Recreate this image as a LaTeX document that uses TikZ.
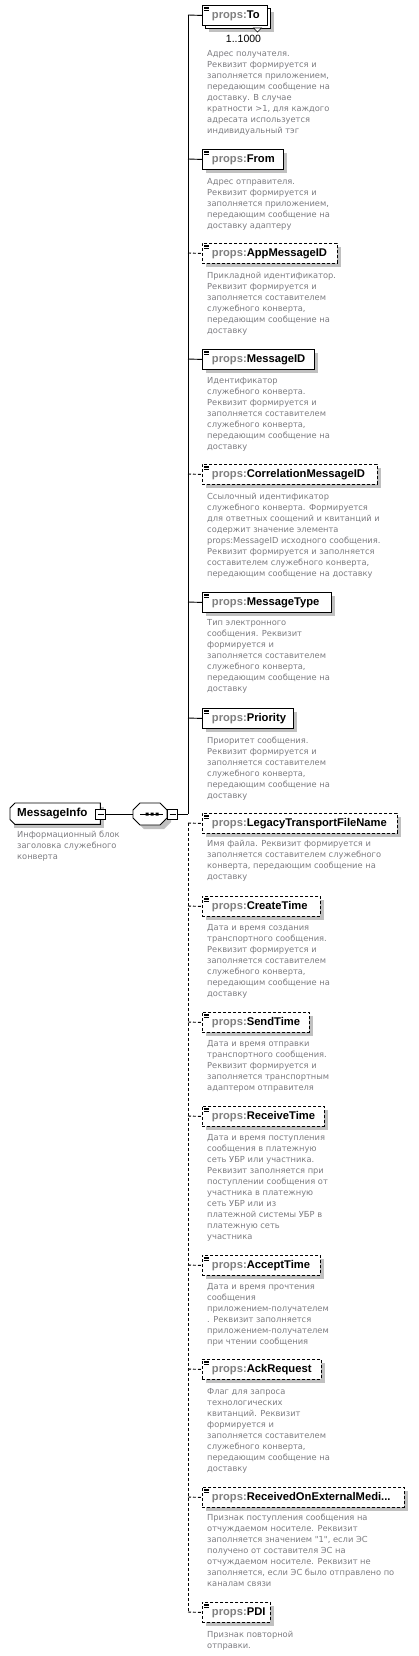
\documentclass[tikz,border=0pt]{standalone}
\usepackage{fontspec}
\setmainfont{Liberation Sans}
\newfontfamily\descfont{DejaVu Sans}
\definecolor{desccol}{RGB}{125,125,130}
\definecolor{shadowcol}{RGB}{192,192,192}
\definecolor{prefixcol}{RGB}{128,128,128}
\tikzset{
  boxline/.style={draw=black, line width=0.9pt},
  conn/.style={draw=black, line width=0.9pt},
  optline/.style={conn, dash pattern=on 3pt off 2pt},
  reqbox/.style={boxline, fill=white, minimum height=20pt, inner sep=0pt, anchor=north west,
    text=black, font=\fontsize{11.2}{13}\selectfont\bfseries},
  optbox/.style={reqbox, dash pattern=on 3pt off 2pt},
  desc/.style={anchor=north west, inner sep=0pt, align=left, text=desccol,
    font=\descfont\fontsize{8.3}{11}\selectfont},
  expbox/.style={draw=black, line width=0.7pt, fill=white, minimum size=10pt, inner sep=0pt},
  docicon/.style={draw=black, line width=0.6pt},
}
\newcommand\mkelem[5]{%
  \fill[shadowcol] (206,#2+4) rectangle ++(#3,20);
  \node[#5, minimum width=#3pt] (#1) at (202,#2) {\makebox[#3pt][l]{\hspace{9.5pt}\textcolor{prefixcol}{props:}#4}};
  \draw[docicon] (204,#2+2) -- ++(5,0) (204,#2+3.7) -- ++(5,0) (204,#2+5.4) -- ++(5,0);
}
\newcommand\mkdesc[3]{\node[desc] (#1) at (207,#2-5) {\strut #3};}
\begin{document}
\begin{tikzpicture}[x=1pt,y=-1pt]
\useasboundingbox[fill=white] (0,0) rectangle (418,1656);

% ---- root element ----
\fill[shadowcol] (14,807) rectangle (104,828);
\node[inner sep=0pt, minimum width=90pt, minimum height=21pt, anchor=north west, fill=white,
  font=\fontsize{11.6}{13}\selectfont\bfseries] (root) at (10,803) {\makebox[90pt][l]{\hspace{7pt}MessageInfo}};
\draw[boxline] (root.north east) -- ([xshift=5pt]root.north west) -- ([yshift=-5pt]root.north west)
  -- ([yshift=5pt]root.south west) -- ([xshift=5pt]root.south west) -- (root.south east) -- cycle;
\node[expbox] (rootexp) at (100.5,814) {};
\draw[line width=0.7pt] ([xshift=-3pt]rootexp.center) -- ([xshift=3pt]rootexp.center);
\node[desc] (rootdesc) at (17,830) {\strut Информационный блок\\заголовка служебного\\конверта};

% ---- sequence compositor ----
\fill[shadowcol] (137,814) -- (144,807) -- (164,807) -- (171,814) -- (171,822) -- (164,829) -- (144,829) -- (137,822) -- cycle;
\node[inner sep=0pt, minimum width=34pt, minimum height=22pt] (seq) at (150,814) {};
\draw[boxline, fill=white] (133,810) -- (140,803) -- (160,803) -- (167,810) -- (167,818) -- (160,825) -- (140,825) -- (133,818) -- cycle;
\draw[line width=0.8pt] (140,814) -- (163,814);
\fill (145.5,812.5) rectangle ++(3,3) (150.5,812.5) rectangle ++(3,3) (155.5,812.5) rectangle ++(3,3);
\node[expbox] (seqexp) at (172.5,814) {};
\draw[line width=0.7pt] ([xshift=-3pt]seqexp.center) -- ([xshift=3pt]seqexp.center);
\draw[conn] (rootexp.east) -- (seq.west);

% ---- trunk points ----
\coordinate (tc) at (188,814);
\coordinate (t1) at (188,15);
\coordinate (t2) at (188,159);
\coordinate (t3) at (188,253);
\coordinate (t4) at (188,359);
\coordinate (t5) at (188,474);
\coordinate (t6) at (188,602);
\coordinate (t7) at (188,718);
\coordinate (t8) at (188,823);
\coordinate (t9) at (188,906);
\coordinate (t10) at (188,1022);
\coordinate (t11) at (188,1116);
\coordinate (t12) at (188,1265);
\coordinate (t13) at (188,1369);
\coordinate (t14) at (188,1497);
\coordinate (t15) at (188,1612);
\draw[conn] (seqexp.east) -- (tc);
\draw[conn] (t1) -- (tc);
\draw[optline] (t8) -- (t15);

% ---- To (multiple) ----
\fill[shadowcol] (209,12) rectangle ++(65,20);
\draw[boxline, fill=white] (205,8) rectangle ++(65,20);
\draw[line width=0.6pt, fill=white] (253.5,28) -- (261.5,28) -- (257.5,32) -- cycle;
\node[reqbox, minimum width=65pt] (e1) at (202,5) {\makebox[65pt][l]{\hspace{9.5pt}\textcolor{prefixcol}{props:}To}};
\draw[docicon] (204,7) -- ++(5,0) (204,8.7) -- ++(5,0) (204,10.4) -- ++(5,0);
\node[font=\fontsize{10.5}{12}\selectfont, text=black, inner sep=0pt] (mult) at (243.5,39) {1..1000};
\mkdesc{d1}{54}{Адрес получателя.\\Реквизит формируется и\\заполняется приложением,\\передающим сообщение на\\доставку. В случае\\кратности >1, для каждого\\адресата используется\\индивидуальный тэг}

\mkelem{e2}{149}{81}{From}{reqbox}
\mkdesc{d2}{182}{Адрес отправителя.\\Реквизит формируется и\\заполняется приложением,\\передающим сообщение на\\доставку адаптеру}

\mkelem{e3}{243}{135}{AppMessageID}{optbox}
\mkdesc{d3}{276}{Прикладной идентификатор.\\Реквизит формируется и\\заполняется составителем\\служебного конверта,\\передающим сообщение на\\доставку}

\mkelem{e4}{349}{112}{MessageID}{reqbox}
\mkdesc{d4}{381}{Идентификатор\\служебного конверта.\\Реквизит формируется и\\заполняется составителем\\служебного конверта,\\передающим сообщение на\\доставку}

\mkelem{e5}{464}{175}{CorrelationMessageID}{optbox}
\mkdesc{d5}{497}{Ссылочный идентификатор\\служебного конверта. Формируется\\для ответных соощений и квитанций и\\содержит значение элемента\\props:MessageID исходного сообщения.\\Реквизит формируется и заполняется\\составителем служебного конверта,\\передающим сообщение на доставку}

\mkelem{e6}{592}{129}{MessageType}{reqbox}
\mkdesc{d6}{623}{Тип электронного\\сообщения. Реквизит\\формируется и\\заполняется составителем\\служебного конверта,\\передающим сообщение на\\доставку}

\mkelem{e7}{708}{91}{Priority}{reqbox}
\mkdesc{d7}{741}{Приоритет сообщения.\\Реквизит формируется и\\заполняется составителем\\служебного конверта,\\передающим сообщение на\\доставку}

\mkelem{e8}{813}{195}{LegacyTransportFileName}{optbox}
\mkdesc{d8}{844}{Имя файла. Реквизит формируется и\\заполняется составителем служебного\\конверта, передающим сообщение на\\доставку}

\mkelem{e9}{896}{118}{CreateTime}{optbox}
\mkdesc{d9}{928}{Дата и время создания\\транспортного сообщения.\\Реквизит формируется и\\заполняется составителем\\служебного конверта,\\передающим сообщение на\\доставку}

\mkelem{e10}{1012}{107}{SendTime}{optbox}
\mkdesc{d10}{1044}{Дата и время отправки\\транспортного сообщения.\\Реквизит формируется и\\заполняется транспортным\\адаптером отправителя}

\mkelem{e11}{1106}{122}{ReceiveTime}{optbox}
\mkdesc{d11}{1138}{Дата и время поступления\\сообщения в платежную\\сеть УБР или участника.\\Реквизит заполняется при\\поступлении сообщения от\\участника в платежную\\сеть УБР или из\\платежной системы УБР в\\платежную сеть\\участника}

\mkelem{e12}{1255}{118}{AcceptTime}{optbox}
\mkdesc{d12}{1287}{Дата и время прочтения\\сообщения\\приложением-получателем\\. Реквизит заполняется\\приложением-получателем\\при чтении сообщения}

\mkelem{e13}{1359}{119}{AckRequest}{optbox}
\mkdesc{d13}{1392}{Флаг для запроса\\технологических\\квитанций. Реквизит\\формируется и\\заполняется составителем\\служебного конверта,\\передающим сообщение на\\доставку}

\mkelem{e14}{1487}{202}{ReceivedOnExternalMedi...}{optbox}
\mkdesc{d14}{1518}{Признак поступления сообщения на\\отчуждаемом носителе. Реквизит\\заполняется значением "1", если ЭС\\получено от составителя ЭС на\\отчуждаемом носителе. Реквизит не\\заполняется, если ЭС было отправлено по\\каналам связи}

\mkelem{e15}{1602}{68}{PDI}{optbox}
\mkdesc{d15}{1635}{Признак повторной\\отправки.}

% ---- stubs ----
\draw[conn] (t1) -- (e1.west);
\draw[conn] (t2) -- (e2.west);
\draw[optline] (t3) -- (e3.west);
\draw[conn] (t4) -- (e4.west);
\draw[optline] (t5) -- (e5.west);
\draw[conn] (t6) -- (e6.west);
\draw[conn] (t7) -- (e7.west);
\draw[optline] (t8) -- (e8.west);
\draw[optline] (t9) -- (e9.west);
\draw[optline] (t10) -- (e10.west);
\draw[optline] (t11) -- (e11.west);
\draw[optline] (t12) -- (e12.west);
\draw[optline] (t13) -- (e13.west);
\draw[optline] (t14) -- (e14.west);
\draw[optline] (t15) -- (e15.west);
\end{tikzpicture}
\end{document}
